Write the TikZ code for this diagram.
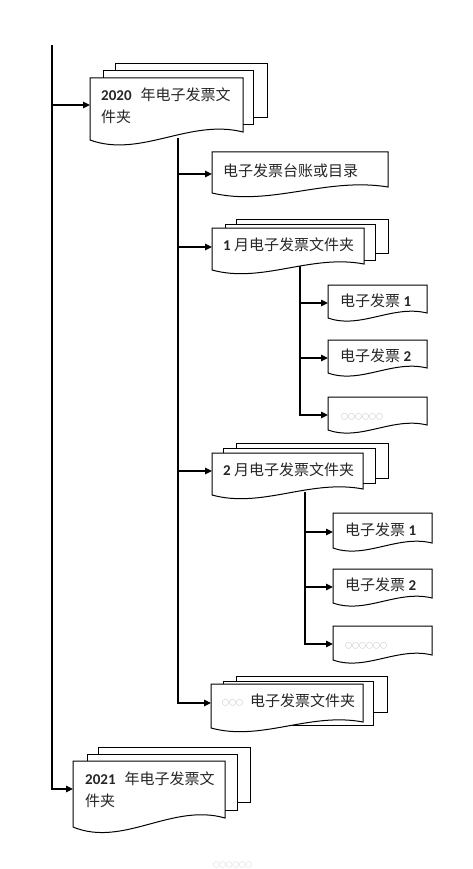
\documentclass[tikz,border=0pt]{standalone}
\usepackage{fontspec}
\setmainfont{Carlito}
\newfontfamily\cjk{Noto Sans CJK SC}
\usetikzlibrary{arrows.meta}
\newcommand\mydoc[5]{%
 \pgfmathsetmacro\dW{#3-#1}%
 \pgfmathsetmacro\cA{#1+0.33*\dW}%
 \pgfmathsetmacro\cB{#1+0.65*\dW}%
 \pgfmathsetmacro\yA{#4+2.3*#5}%
 \pgfmathsetmacro\yB{#4-2.7*#5}%
 \pgfmathsetmacro\yR{#4-#5}%
 \path[docline] (#1,#2) -- (#3,#2) -- (#3,\yR) .. controls (\cB,\yB) and (\cA,\yA) .. (#1,#4) -- cycle;}
\newcommand\myrect[4]{\path[docline] (#1,#2) rectangle (#3,#4);}
\tikzset{
 conn/.style={line width=1.3pt, draw=black},
 arr/.style={conn, -{Triangle[length=7pt,width=6.5pt]}},
 docline/.style={line width=1pt, draw=black, fill=white},
 lbl/.style={anchor=west, inner sep=0pt, font=\fontsize{15}{15}\selectfont, text=black!85},
 lblb/.style={anchor=base west, inner sep=0pt, font=\fontsize{15}{15}\selectfont, text=black!85},
 dotsty/.style={anchor=west, inner sep=0pt, font=\cjk\fontsize{7}{7}\selectfont, text=black!40},
}
\begin{document}
\begin{tikzpicture}[x=1pt,y=-1pt]
\useasboundingbox (0,0) rectangle (472,869);
% coordinates
\coordinate (mtop) at (52,45);
\coordinate (a2020) at (90,105);
\coordinate (a2021) at (73,789);
\coordinate (s1top) at (178,138);
\coordinate (aTz) at (212,174);
\coordinate (aM1) at (212,247);
\coordinate (aM2) at (212,471);
\coordinate (aMx) at (211,703);
\coordinate (s2top) at (300,265);
\coordinate (b11) at (328,303);
\coordinate (b12) at (328,358);
\coordinate (b13) at (328,415);
\coordinate (s3top) at (305,492);
\coordinate (b21) at (333,532);
\coordinate (b22) at (333,587);
\coordinate (b23) at (333,644);
% connectors
\draw[arr] (mtop) |- (a2021);
\draw[arr] (mtop |- a2020) -- (a2020);
\draw[arr] (s1top) |- (aMx);
\draw[arr] (s1top |- aTz) -- (aTz);
\draw[arr] (s1top |- aM1) -- (aM1);
\draw[arr] (s1top |- aM2) -- (aM2);
\draw[arr] (s2top) |- (b13);
\draw[arr] (s2top |- b11) -- (b11);
\draw[arr] (s2top |- b12) -- (b12);
\draw[arr] (s3top) |- (b23);
\draw[arr] (s3top |- b21) -- (b21);
\draw[arr] (s3top |- b22) -- (b22);
% 2020 folder
\myrect{115}{64}{267}{118}
\myrect{103}{71}{253}{125}
\mydoc{90}{78}{243}{140}{8}
\node[lblb] (t2020a) at (101,101) {\textbf{2020}\hspace{9pt}{\cjk 年电子发票文}};
\node[lblb] (t2020b) at (101,123) {\cjk 件夹};
% ledger
\mydoc{212}{152}{388}{193}{6}
\node[lbl] (tz) at (223,171) {\cjk 电子发票台账或目录};
% month 1
\myrect{236}{219}{388}{253}
\myrect{225}{224}{375}{260}
\mydoc{212}{228}{364}{270}{6}
\node[lbl] (tm1) at (223,245) {\textbf{1} {\cjk 月电子发票文件夹}};
\mydoc{328}{285}{427}{318}{5}
\node[lbl] (t11) at (340,301) {{\cjk 电子发票} \textbf{1}};
\mydoc{328}{340}{427}{373}{5}
\node[lbl] (t12) at (340,356) {{\cjk 电子发票} \textbf{2}};
\mydoc{328}{397}{427}{430}{5}
\node[dotsty] (t13) at (341,417) {○○○○○○};
% month 2
\myrect{236}{443}{388}{478}
\myrect{223}{448}{375}{483}
\mydoc{212}{453}{363}{495}{6}
\node[lbl] (tm2) at (223,470) {\textbf{2} {\cjk 月电子发票文件夹}};
\mydoc{333}{513}{432}{548}{5}
\node[lbl] (t21) at (345,530) {{\cjk 电子发票} \textbf{1}};
\mydoc{333}{569}{432}{603}{5}
\node[lbl] (t22) at (345,585) {{\cjk 电子发票} \textbf{2}};
\mydoc{333}{626}{432}{660}{5}
\node[dotsty] (t23) at (345,646) {○○○○○○};
% other months
\myrect{236}{676}{387}{712}
\myrect{223}{681}{373}{725}
\mydoc{211}{684}{363}{728}{6}
\node[dotsty] (tmxd) at (222,703) {○○○};
\node[lbl] (tmx) at (250,701) {\cjk 电子发票文件夹};
% 2021 folder
\myrect{98}{747}{250}{802}
\myrect{87}{754}{237}{810}
\mydoc{73}{761}{225}{827}{9}
\node[lblb] (t2021a) at (85,784) {\textbf{2021}\hspace{9pt}{\cjk 年电子发票文}};
\node[lblb] (t2021b) at (85,806) {\cjk 件夹};
% bottom dots
\node[dotsty, font=\cjk\fontsize{6.5}{6.5}\selectfont, text=black!30] (tend) at (213,865) {○○○○○○};
\end{tikzpicture}
\end{document}
